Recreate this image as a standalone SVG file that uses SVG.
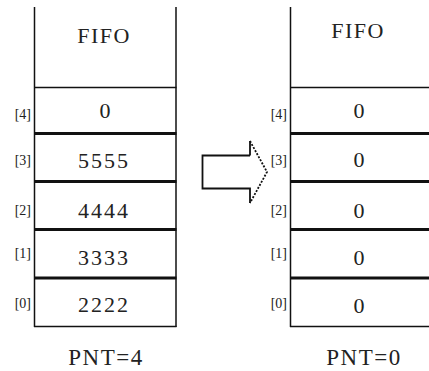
<svg xmlns="http://www.w3.org/2000/svg" width="429" height="371" viewBox="0 0 429 371">
<style>
.thin{stroke:#111;stroke-width:1.5;fill:none}
.thick{stroke:#111;stroke-width:3;fill:none}
.title{font-family:"Liberation Serif",serif;font-size:22px;fill:#222;text-anchor:middle;letter-spacing:1.5px}
.val{font-family:"Liberation Serif",serif;font-size:22px;fill:#222;text-anchor:middle;letter-spacing:2px}
.idx{font-family:"Liberation Serif",serif;font-size:14px;fill:#222;text-anchor:end}
.pnt{font-family:"Liberation Serif",serif;font-size:23px;fill:#222;text-anchor:middle;letter-spacing:1.5px}
.arr{stroke:#111;stroke-width:1.8;fill:none}
</style>
<rect width="429" height="371" fill="#fff"/>
<g id="left-stack">
  <line class="thin" x1="34.5" y1="7" x2="34.5" y2="327"/>
  <line class="thin" x1="176" y1="7" x2="176" y2="327"/>
  <line class="thin" x1="34" y1="87.5" x2="176.5" y2="87.5"/>
  <line class="thick" x1="34" y1="133.5" x2="176.5" y2="133.5"/>
  <line class="thick" x1="34" y1="181.5" x2="176.5" y2="181.5"/>
  <line class="thick" x1="34" y1="229.5" x2="176.5" y2="229.5"/>
  <line class="thick" x1="34" y1="278" x2="176.5" y2="278"/>
  <line class="thin" x1="34" y1="326.5" x2="176.5" y2="326.5"/>
  <text class="title" x="104" y="43">FIFO</text>
  <text class="val" x="106" y="118">0</text>
  <text class="val" x="104" y="168">5555</text>
  <text class="val" x="104" y="218">4444</text>
  <text class="val" x="104" y="265">3333</text>
  <text class="val" x="104" y="312">2222</text>
  <text class="idx" x="31" y="119">[4]</text>
  <text class="idx" x="31" y="165">[3]</text>
  <text class="idx" x="31" y="215">[2]</text>
  <text class="idx" x="31" y="258">[1]</text>
  <text class="idx" x="31" y="308">[0]</text>
  <text class="pnt" x="106" y="365">PNT=4</text>
</g>
<g id="right-stack">
  <line class="thin" x1="290.5" y1="7" x2="290.5" y2="327"/>
  <line class="thin" x1="290" y1="87.5" x2="429" y2="87.5"/>
  <line class="thick" x1="290" y1="133.5" x2="429" y2="133.5"/>
  <line class="thick" x1="290" y1="181.5" x2="429" y2="181.5"/>
  <line class="thick" x1="290" y1="229.5" x2="429" y2="229.5"/>
  <line class="thick" x1="290" y1="278" x2="429" y2="278"/>
  <line class="thin" x1="290" y1="326.5" x2="429" y2="326.5"/>
  <text class="title" x="358" y="38">FIFO</text>
  <text class="val" x="360" y="118">0</text>
  <text class="val" x="360" y="167">0</text>
  <text class="val" x="360" y="218">0</text>
  <text class="val" x="360" y="265">0</text>
  <text class="val" x="360" y="313">0</text>
  <text class="idx" x="287" y="119">[4]</text>
  <text class="idx" x="287" y="165">[3]</text>
  <text class="idx" x="287" y="215">[2]</text>
  <text class="idx" x="287" y="258">[1]</text>
  <text class="idx" x="287" y="308">[0]</text>
  <text class="pnt" x="364" y="365">PNT=0</text>
</g>
<g id="connectors">
  <path class="arr" d="M250,155.5 H202.5 V188.5 H250 V203 M250,155.5 V141"/>
  <path class="arr" stroke-width="1.4" stroke-dasharray="2,1.5" d="M250,141 L267,172 L250,203"/>
</g>
</svg>
